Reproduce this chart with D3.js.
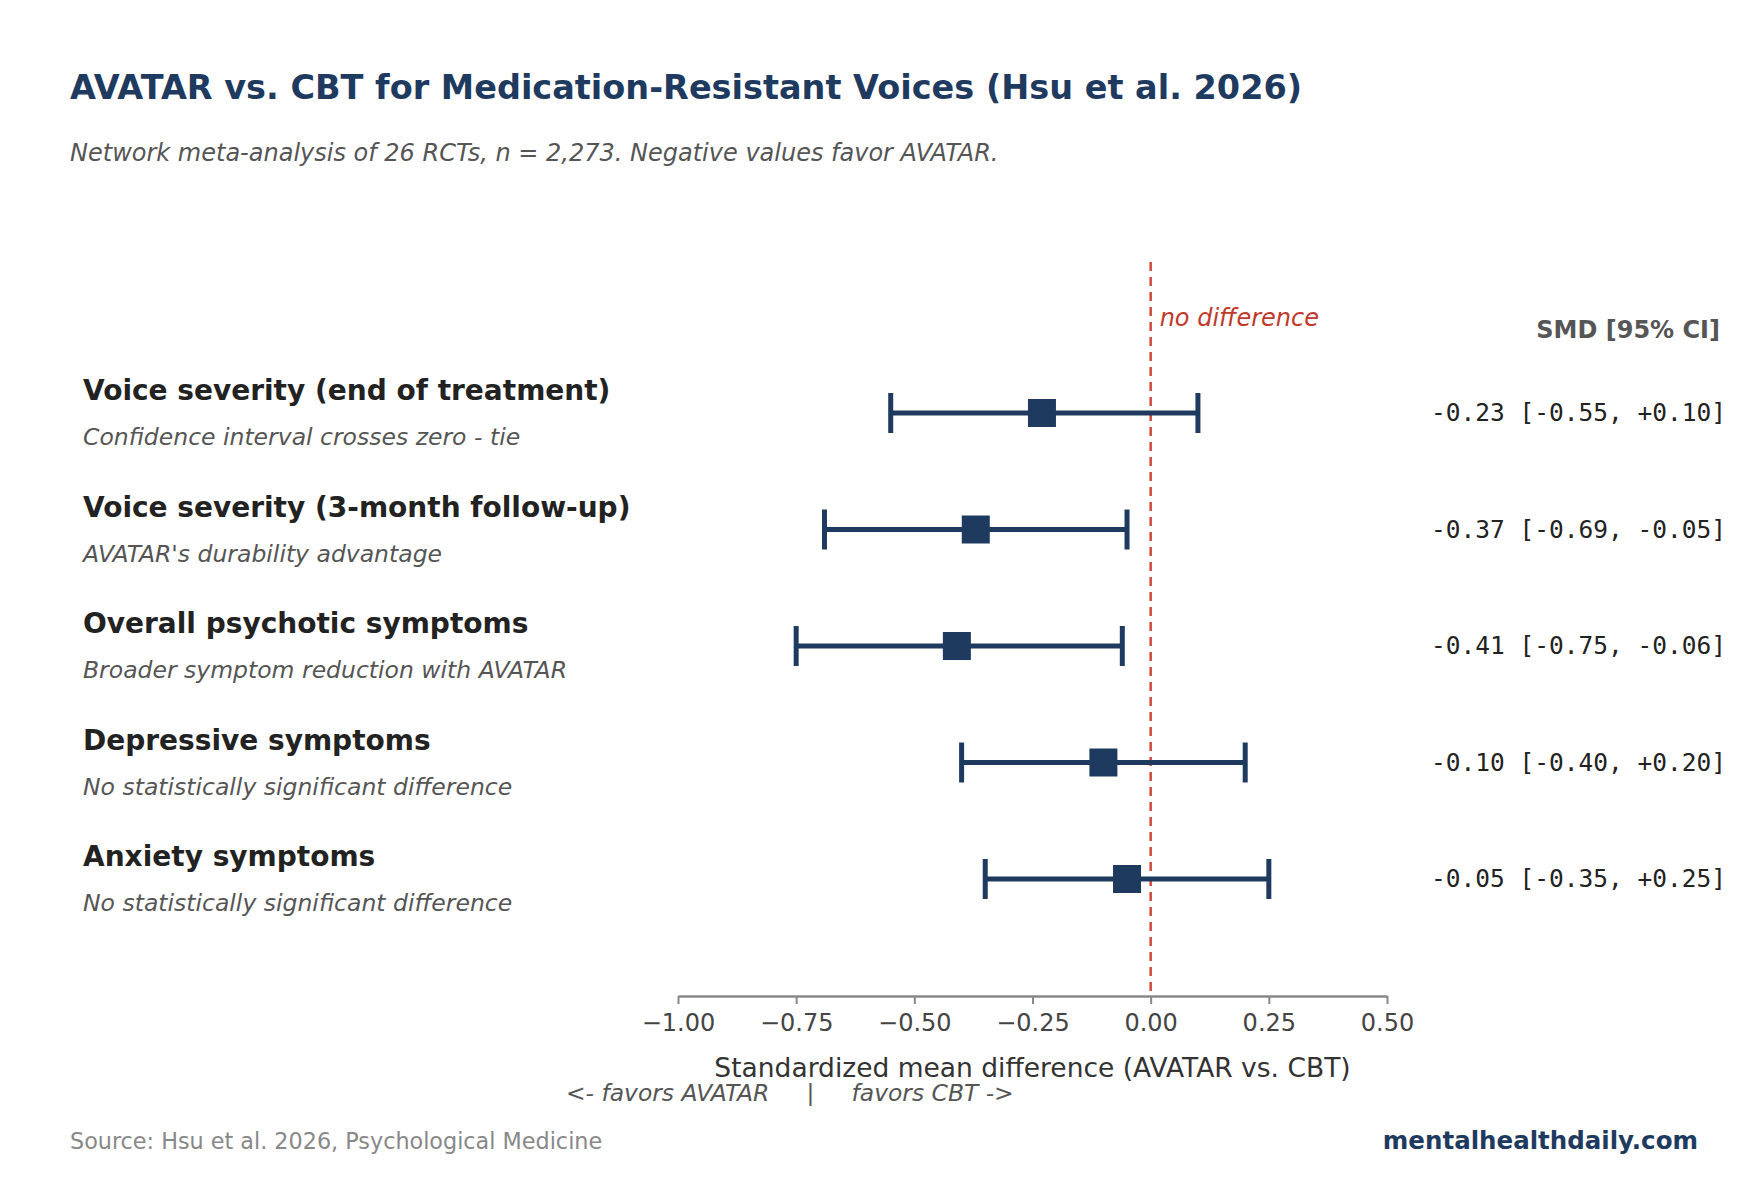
<!DOCTYPE html><html><head><meta charset="utf-8"><script src="https://d3js.org/d3.v7.min.js"></script>
<style>body{margin:0;background:#fff}</style></head><body><script>
const outcomes=["Voice severity (end of treatment)","Voice severity (3-month follow-up)","Overall psychotic symptoms","Depressive symptoms","Anxiety symptoms"];
const notes=["Confidence interval crosses zero - tie","AVATAR's durability advantage","Broader symptom reduction with AVATAR","No statistically significant difference","No statistically significant difference"];
const smd=[-0.23,-0.37,-0.41,-0.10,-0.05];
const lo=[-0.55,-0.69,-0.75,-0.40,-0.35];
const hi=[0.10,-0.05,-0.06,0.20,0.25];
const labels=["-0.23 [-0.55, +0.10]","-0.37 [-0.69, -0.05]","-0.41 [-0.75, -0.06]","-0.10 [-0.40, +0.20]","-0.05 [-0.35, +0.25]"];
const ticks=[-1,-0.75,-0.5,-0.25,0,0.25,0.5];
const W=1760,H=1184,navy="#1f3a5f",F="DejaVu Sans";
const svg=d3.select("body").append("svg").attr("width",W).attr("height",H).style("font-family",F);
const x=d3.scaleLinear().domain([-1,0.5]).range([678,1387]);
const y=d3.scalePoint().domain(d3.range(5)).range([413,879]);
svg.append("text").attr("x",70).attr("y",99).attr("font-size",33.5).attr("font-weight","bold").attr("fill",navy).text("AVATAR vs. CBT for Medication-Resistant Voices (Hsu et al. 2026)");
svg.append("text").attr("x",70).attr("y",161).attr("font-size",24).attr("font-style","italic").attr("fill","#555").text("Network meta-analysis of 26 RCTs, n = 2,273. Negative values favor AVATAR.");
const ax=svg.append("g").attr("transform","translate(0,996)").call(d3.axisBottom(x).tickValues(ticks).tickFormat(d3.format(".2f")).tickSize(8).tickSizeOuter(0));
ax.select(".domain").attr("stroke","#888").attr("stroke-width",2.5);
ax.selectAll(".tick line").attr("stroke","#888").attr("stroke-width",2);
ax.selectAll("text").attr("font-size",24).attr("fill","#444").attr("font-family",F).attr("dy","1em").text(d=>d3.format(".2f")(d).replace("-","\u2212"));
svg.append("line").attr("x1",x(0)).attr("x2",x(0)).attr("y1",262).attr("y2",996).attr("stroke","#d04a3c").attr("stroke-width",2.5).attr("stroke-dasharray","9,6");
svg.append("text").attr("x",x(0)+9).attr("y",326).attr("font-size",24).attr("font-style","italic").attr("fill","#c0392b").text("no difference");
svg.append("text").attr("x",1720).attr("y",338).attr("text-anchor","end").attr("font-size",24).attr("font-weight","bold").attr("fill","#555").text("SMD [95% CI]");
const g=svg.selectAll(".r").data(d3.range(5)).join("g");
g.append("line").attr("x1",i=>x(lo[i])).attr("x2",i=>x(hi[i])).attr("y1",y).attr("y2",y).attr("stroke",navy).attr("stroke-width",5);
[lo,hi].forEach(a=>g.append("line").attr("x1",i=>x(a[i])).attr("x2",i=>x(a[i])).attr("y1",i=>y(i)-20).attr("y2",i=>y(i)+20).attr("stroke",navy).attr("stroke-width",5));
g.append("rect").attr("x",i=>x(smd[i])-14).attr("y",i=>y(i)-14).attr("width",28).attr("height",28).attr("fill",navy);
g.append("text").attr("x",83).attr("y",i=>y(i)-13).attr("font-size",28).attr("font-weight","bold").attr("fill","#222").text(i=>outcomes[i]);
g.append("text").attr("x",83).attr("y",i=>y(i)+32).attr("font-size",23.5).attr("font-style","italic").attr("fill","#555").text(i=>notes[i]);
g.append("text").attr("x",1726).attr("y",i=>y(i)+8).attr("text-anchor","end").attr("font-size",24.5).attr("font-family","DejaVu Sans Mono").attr("fill","#222").text(i=>labels[i]);
svg.append("text").attr("x",(678+1387)/2).attr("y",1077).attr("text-anchor","middle").attr("font-size",26.5).attr("fill","#333").text("Standardized mean difference (AVATAR vs. CBT)");
svg.append("text").attr("x",566).attr("y",1101).attr("font-size",23.4).attr("font-style","italic").attr("fill","#555").attr("xml:space","preserve").text("<- favors AVATAR     |     favors CBT ->");
svg.append("text").attr("x",70).attr("y",1149).attr("font-size",22.3).attr("fill","#888").text("Source: Hsu et al. 2026, Psychological Medicine");
svg.append("text").attr("x",1698).attr("y",1149).attr("text-anchor","end").attr("font-size",24.5).attr("font-weight","bold").attr("fill",navy).text("mentalhealthdaily.com");
</script></body></html>
